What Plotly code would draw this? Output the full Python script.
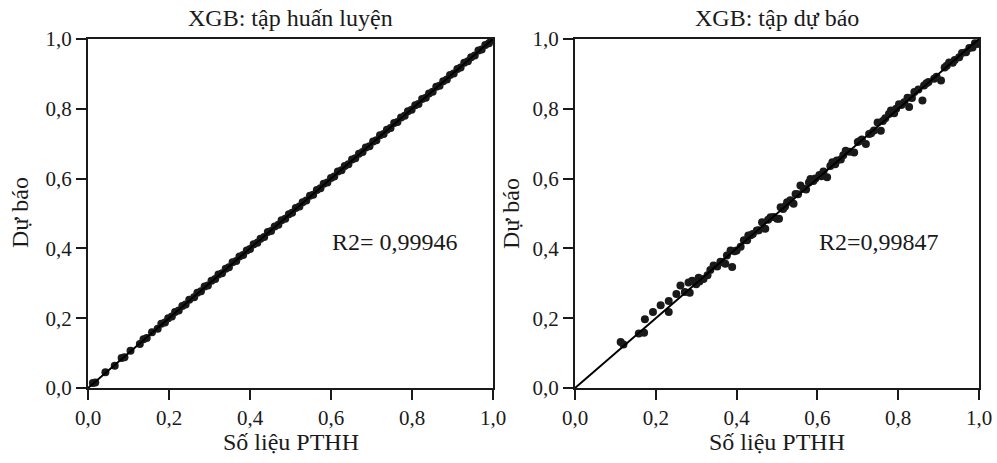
import plotly.graph_objects as go

# ---------------- data ----------------
train_x = [0.012, 0.018, 0.043, 0.066, 0.083, 0.09, 0.105, 0.128, 0.137, 0.145, 0.158, 0.172,
           0.181, 0.19, 0.198, 0.207, 0.215, 0.224, 0.233, 0.241, 0.25, 0.262, 0.27, 0.279,
           0.288, 0.296, 0.305, 0.314, 0.322, 0.331, 0.34, 0.348, 0.357, 0.366, 0.374, 0.383,
           0.392, 0.4, 0.409, 0.418, 0.426, 0.435, 0.444, 0.452, 0.461, 0.47, 0.478, 0.487,
           0.496, 0.504, 0.513, 0.522, 0.53, 0.539, 0.548, 0.556, 0.565, 0.574, 0.582, 0.591,
           0.6, 0.608, 0.617, 0.626, 0.634, 0.643, 0.652, 0.66, 0.669, 0.678, 0.686, 0.695,
           0.704, 0.712, 0.721, 0.73, 0.738, 0.747, 0.756, 0.764, 0.773, 0.782, 0.79, 0.799,
           0.808, 0.816, 0.825, 0.834, 0.842, 0.851, 0.86, 0.868, 0.877, 0.886, 0.894, 0.903,
           0.912, 0.92, 0.929, 0.938, 0.946, 0.955, 0.964, 0.972, 0.981, 0.99, 0.996]
train_y = [0.014, 0.016, 0.045, 0.064, 0.086, 0.088, 0.107, 0.126, 0.14, 0.143, 0.16, 0.17,
           0.184, 0.188, 0.2, 0.205, 0.218, 0.222, 0.235, 0.239, 0.253, 0.26, 0.273, 0.277,
           0.291, 0.294, 0.307, 0.312, 0.325, 0.329, 0.342, 0.346, 0.36, 0.364, 0.377, 0.381,
           0.394, 0.398, 0.412, 0.416, 0.428, 0.433, 0.447, 0.45, 0.463, 0.468, 0.481, 0.485,
           0.498, 0.502, 0.516, 0.52, 0.532, 0.537, 0.551, 0.554, 0.567, 0.572, 0.585, 0.589,
           0.602, 0.606, 0.62, 0.624, 0.636, 0.641, 0.655, 0.658, 0.671, 0.676, 0.689, 0.693,
           0.706, 0.71, 0.724, 0.728, 0.74, 0.745, 0.759, 0.762, 0.775, 0.78, 0.793, 0.797,
           0.81, 0.814, 0.828, 0.832, 0.844, 0.849, 0.863, 0.866, 0.879, 0.884, 0.897, 0.901,
           0.914, 0.918, 0.932, 0.936, 0.948, 0.953, 0.967, 0.97, 0.983, 0.988, 0.998]

test_x = [0.113, 0.12, 0.158, 0.171, 0.173, 0.193, 0.212, 0.232, 0.232, 0.251, 0.261, 0.272,
          0.281, 0.284, 0.29, 0.306, 0.308, 0.318, 0.328, 0.343, 0.352, 0.364, 0.372, 0.376,
          0.385, 0.389, 0.4, 0.41, 0.418, 0.426, 0.429, 0.44, 0.45, 0.463, 0.471, 0.484,
          0.5, 0.505, 0.509, 0.52, 0.525, 0.533, 0.541, 0.546, 0.558, 0.566, 0.579, 0.583,
          0.595, 0.605, 0.615, 0.624, 0.637, 0.648, 0.658, 0.67, 0.691, 0.7, 0.71, 0.72,
          0.728, 0.74, 0.749, 0.757, 0.768, 0.777, 0.782, 0.795, 0.802, 0.815, 0.823, 0.827,
          0.84, 0.85, 0.86, 0.864, 0.875, 0.889, 0.906, 0.915, 0.926, 0.94, 0.951, 0.968,
          0.976, 0.984, 0.997,
          0.3, 0.335, 0.36, 0.395, 0.435, 0.455, 0.478, 0.492, 0.515, 0.552, 0.572, 0.59,
          0.61, 0.632, 0.644, 0.664, 0.68, 0.705, 0.733, 0.762, 0.79, 0.808, 0.834, 0.87,
          0.895, 0.92, 0.935, 0.958, 0.99]
test_y = [0.132, 0.125, 0.156, 0.158, 0.197, 0.218, 0.237, 0.249, 0.218, 0.269, 0.294, 0.275,
          0.302, 0.273, 0.307, 0.316, 0.305, 0.312, 0.323, 0.351, 0.348, 0.361, 0.356, 0.38,
          0.394, 0.347, 0.394, 0.405, 0.423, 0.423, 0.437, 0.441, 0.451, 0.475, 0.456, 0.489,
          0.485, 0.485, 0.518, 0.52, 0.532, 0.538, 0.528, 0.556, 0.58, 0.571, 0.589, 0.599,
          0.6, 0.61, 0.62, 0.604, 0.647, 0.652, 0.655, 0.68, 0.675, 0.705, 0.712, 0.699,
          0.728, 0.738, 0.761, 0.737, 0.773, 0.785, 0.795, 0.8, 0.813, 0.819, 0.832, 0.805,
          0.848, 0.855, 0.824, 0.867, 0.877, 0.886, 0.881, 0.918, 0.933, 0.94, 0.948, 0.962,
          0.974, 0.976, 0.986,
          0.297, 0.338, 0.362, 0.392, 0.438, 0.452, 0.482, 0.49, 0.513, 0.555, 0.569, 0.593,
          0.607, 0.636, 0.641, 0.667, 0.677, 0.708, 0.73, 0.765, 0.787, 0.811, 0.831, 0.873,
          0.892, 0.923, 0.932, 0.96, 0.988]

line_x = [0.0, 1.0]
line_y = [0.0, 1.0]

tick_vals = [0.0, 0.2, 0.4, 0.6, 0.8, 1.0]
tick_text = ["0,0", "0,2", "0,4", "0,6", "0,8", "1,0"]

titles = ["XGB: tập huấn luyện", "XGB: tập dự báo"]
r2_text = ["R2= 0,99946", "R2=0,99847"]
x_title = "Số liệu PTHH"
y_title = "Dự báo"

# ---------------- figure ----------------
W, H = 997, 463
FONT = "Liberation Serif, Times New Roman, serif"
INK = "#1a1a1a"

fig = go.Figure()

for i, (xs, ys) in enumerate([(train_x, train_y), (test_x, test_y)]):
    xa = "x" if i == 0 else "x2"
    ya = "y" if i == 0 else "y2"
    fig.add_trace(go.Scatter(x=xs, y=ys, mode="markers", xaxis=xa, yaxis=ya,
                             marker=dict(color=INK, size=8, line=dict(width=0)),
                             showlegend=False))
    fig.add_trace(go.Scatter(x=line_x, y=line_y, mode="lines", xaxis=xa, yaxis=ya,
                             line=dict(color="black", width=2), showlegend=False))

ydom = [1 - 388 / H, 1 - 39 / H]
xdoms = [[88 / W, 493 / W], [575 / W, 979 / W]]

axis_common = dict(range=[0, 1], tickvals=tick_vals, ticktext=tick_text,
                   showgrid=False, zeroline=False, showline=True, mirror=True,
                   linecolor=INK, linewidth=2, ticks="outside", ticklen=10,
                   tickwidth=2, tickcolor=INK, automargin=False,
                   tickfont=dict(family=FONT, size=21, color=INK))

fig.update_layout(
    width=W, height=H,
    margin=dict(l=0, r=0, t=0, b=0, pad=0, autoexpand=False),
    paper_bgcolor="white", plot_bgcolor="white",
    xaxis=dict(domain=xdoms[0], anchor="y", **axis_common),
    yaxis=dict(domain=ydom, anchor="x", **axis_common),
    xaxis2=dict(domain=xdoms[1], anchor="y2", **axis_common),
    yaxis2=dict(domain=ydom, anchor="x2", **axis_common),
)

ann = []
for i in range(2):
    x0, x1 = xdoms[i]
    cx = (x0 + x1) / 2
    ann.append(dict(text=titles[i], x=cx, y=1 - 18 / H, xref="paper", yref="paper",
                    showarrow=False, xanchor="center", yanchor="middle",
                    font=dict(family=FONT, size=24, color=INK)))
    ann.append(dict(text=x_title, x=cx, y=1 - 442 / H, xref="paper", yref="paper",
                    showarrow=False, xanchor="center", yanchor="middle",
                    font=dict(family=FONT, size=24, color=INK)))
    lx = 20 if i == 0 else 511
    ann.append(dict(text=y_title, x=lx / W, y=1 - 213 / H, xref="paper", yref="paper",
                    showarrow=False, xanchor="center", yanchor="middle", textangle=-90,
                    font=dict(family=FONT, size=24, color=INK)))
    rx = 395 if i == 0 else 879
    ann.append(dict(text=r2_text[i], x=rx / W, y=1 - 242 / H, xref="paper", yref="paper",
                    showarrow=False, xanchor="center", yanchor="middle",
                    font=dict(family=FONT, size=24, color=INK)))
fig.update_layout(annotations=ann)

fig.write_html("out.html", config={"displayModeBar": False},
               post_script="document.body.style.margin='0px';document.body.style.padding='0px';")
